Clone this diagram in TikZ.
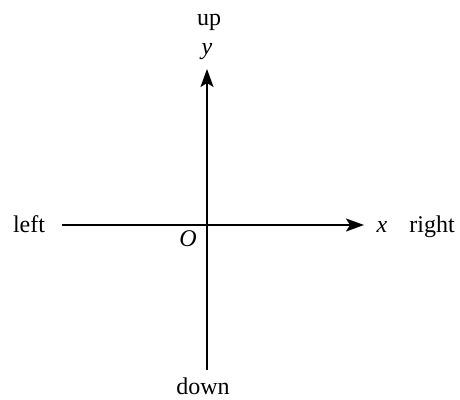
\documentclass[tikz,border=0pt]{standalone}
\usepackage{fontspec}
\setmainfont{Liberation Serif}
\usetikzlibrary{arrows.meta}

\begin{document}
\begin{tikzpicture}[
  x=0.5pt, y=-0.5pt,
  lab/.style={font=\fontsize{12}{14}\selectfont, anchor=base, inner sep=0pt},
  axis/.style={-{Stealth[length=9pt, width=6.5pt, inset=2pt]}, line width=0.9pt}
]
\useasboundingbox (0,0) rectangle (460,400);
\coordinate (xl) at (62,225);
\coordinate (xr) at (364,225);
\coordinate (yb) at (207,370);
\coordinate (yt) at (207,69);
\node[lab] (up) at (209,26) {up};
\node[lab] (ylab) at (207,55) {\textit{y}};
\node[lab] (left) at (29,233) {left};
\node[lab] (xlab) at (382,233) {\textit{x}};
\node[lab] (right) at (432,233) {right};
\node[lab] (o) at (188,247) {\textit{O}};
\node[lab] (down) at (203,394) {down};
\draw[axis] (xl) -- (xr);
\draw[axis] (yb) -- (yt);
\end{tikzpicture}
\end{document}
